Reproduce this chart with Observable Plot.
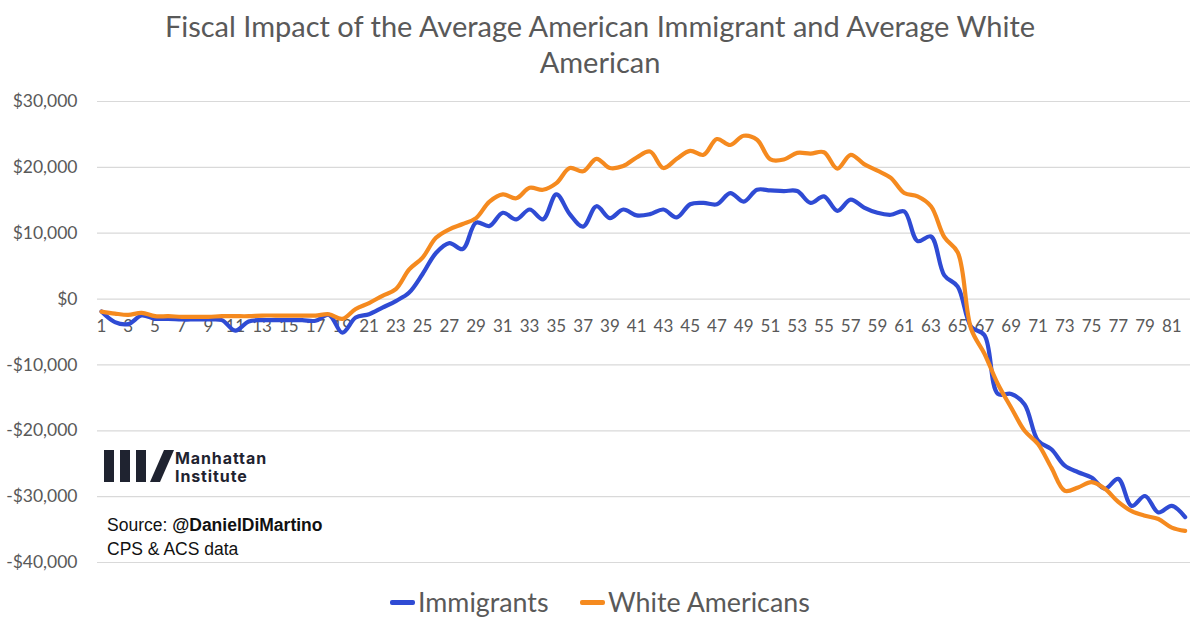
<!DOCTYPE html>
<html>
<head>
<meta charset="utf-8">
<script src="https://cdn.jsdelivr.net/npm/d3@7"></script>
<script src="https://cdn.jsdelivr.net/npm/@observablehq/plot@0.6"></script>
<style>
  html, body { margin: 0; padding: 0; background: #fff; }
  #wrap { position: relative; width: 1200px; height: 622px; overflow: hidden; }
  #title { position: absolute; left: 0; top: 8px; width: 1200px; text-align: center;
    font-family: Lato, "Open Sans", sans-serif; font-size: 29px; line-height: 36px; color: #595959; }
  #chart { position: absolute; left: 0; top: 85px; }
  #legend { position: absolute; left: 0; top: 585px; width: 1200px; height: 34px;
    font-family: Lato, "Open Sans", sans-serif; font-size: 26.8px; color: #595959; }
  .li { position: absolute; top: 0; display: flex; align-items: center; height: 34px; }
  .sw { width: 25px; height: 5px; border-radius: 2px; margin-right: 3px; }
  #logo { position: absolute; left: 104px; top: 448px; }
  #source { position: absolute; left: 107px; top: 513px; font-family: "Liberation Sans", Arial, sans-serif;
    font-size: 17.5px; line-height: 24px; color: #111; }
</style>
</head>
<body>
<div id="wrap">
  <div id="title">Fiscal Impact of the Average American Immigrant and Average White<br>American</div>
  <div id="chart"></div>
  <svg id="logo" width="185" height="38" viewBox="0 0 185 38">
    <rect x="0" y="2" width="10" height="32" fill="#1f2330"></rect>
    <rect x="16" y="2" width="10" height="32" fill="#1f2330"></rect>
    <rect x="32" y="2" width="10" height="32" fill="#1f2330"></rect>
    <polygon points="46,34 56,34 70,2 60,2" fill="#1f2330"></polygon>
    <text x="71" y="16" font-family="Inter, Roboto, sans-serif" font-weight="700" font-size="16" letter-spacing="0.9" fill="#1f2330">Manhattan</text>
    <text x="71" y="34" font-family="Inter, Roboto, sans-serif" font-weight="700" font-size="16" letter-spacing="0.9" fill="#1f2330">Institute</text>
  </svg>
  <div id="source">Source: <b>@DanielDiMartino</b><br>CPS &amp; ACS data</div>
  <div id="legend">
    <div class="li" style="left:390px"><div class="sw" style="background:#2f4bd4"></div>Immigrants</div>
    <div class="li" style="left:580px"><div class="sw" style="background:#f58a1f"></div>White Americans</div>
  </div>
</div>
<script>
const ages = d3.range(1, 83);
const immigrants = [
  -1.9, -3.5, -3.8, -2.5, -3.0, -3.0, -3.1, -3.1, -3.1, -3.2,
  -4.8, -3.4, -3.2, -3.2, -3.2, -3.2, -3.3, -2.4, -5.1, -2.8,
  -2.3, -1.3, -0.3, 1.0, 3.8, 7.0, 8.5, 7.6, 11.6, 11.1,
  13.1, 12.1, 13.6, 12.1, 15.9, 12.9, 11.0, 14.1, 12.3, 13.6,
  12.7, 12.9, 13.6, 12.4, 14.4, 14.6, 14.4, 16.1, 14.8, 16.6,
  16.5, 16.4, 16.4, 14.6, 15.6, 13.4, 15.1, 13.9, 13.1, 12.8,
  13.3, 8.8, 9.5, 3.6, 1.9, -4.2, -5.5, -14.4, -14.4, -16.0,
  -21.5, -22.8, -25.3, -26.3, -27.1, -28.8, -27.3, -31.4, -29.9, -32.4,
  -31.4, -33.1
];
const whiteAmericans = [
  -1.9, -2.2, -2.4, -2.1, -2.6, -2.6, -2.7, -2.7, -2.7, -2.6,
  -2.6, -2.6, -2.5, -2.5, -2.5, -2.5, -2.5, -2.3, -3.0, -1.5,
  -0.6, 0.5, 1.5, 4.5, 6.3, 9.3, 10.6, 11.4, 12.3, 14.8,
  15.9, 15.3, 16.9, 16.6, 17.6, 19.9, 19.4, 21.3, 19.9, 20.2,
  21.5, 22.4, 19.9, 21.3, 22.5, 21.9, 24.3, 23.4, 24.8, 24.2,
  21.2, 21.2, 22.2, 22.1, 22.3, 19.8, 21.9, 20.5, 19.5, 18.4,
  16.1, 15.6, 14.1, 9.4, 7.1, -4.5, -8.3, -12.9, -16.5, -20.0,
  -22.0, -25.6, -29.1, -28.6, -27.8, -28.8, -30.8, -32.2, -32.9, -33.4,
  -34.7, -35.2
];
const xTickAges = d3.range(1, 82, 2);
const yTicks = [30000, 20000, 10000, 0, -10000, -20000, -30000, -40000];
const seriesNames = ["Immigrants", "White Americans"];
const seriesColors = ["#2f4bd4", "#f58a1f"];

const data = [];
ages.forEach((a, i) => {
  data.push({age: a, value: immigrants[i] * 1000, series: seriesNames[0]});
  data.push({age: a, value: whiteAmericans[i] * 1000, series: seriesNames[1]});
});

const fmt = d3.format(",");
const money = d => d < 0 ? "-$" + fmt(-d) : "$" + fmt(d);

const chart = Plot.plot({
  width: 1200,
  height: 495,
  marginLeft: 97,
  marginRight: 10,
  marginTop: 16,
  marginBottom: 18,
  style: {fontFamily: "Lato, 'Open Sans', sans-serif", background: "white"},
  x: {domain: [0.7, 82.4], axis: null},
  y: {domain: [-40000, 30000], ticks: yTicks, tickFormat: money},
  color: {domain: seriesNames, range: seriesColors},
  marks: [
    Plot.gridY(yTicks, {stroke: "#d9d9d9", strokeOpacity: 1, strokeWidth: 1.2}),
    Plot.axisY(yTicks, {tickSize: 0, tickPadding: 20, tickFormat: money, fontSize: 17.5, fill: "#595959", label: null}),
    Plot.text(xTickAges, {x: d => d, y: 0, text: d => String(d), dy: 27, fontSize: 17, fill: "#595959"}),
    Plot.line(data, {x: "age", y: "value", z: "series", stroke: "series", strokeWidth: 4.2, curve: "catmull-rom"})
  ]
});
document.getElementById("chart").appendChild(chart);
</script>
</body>
</html>
